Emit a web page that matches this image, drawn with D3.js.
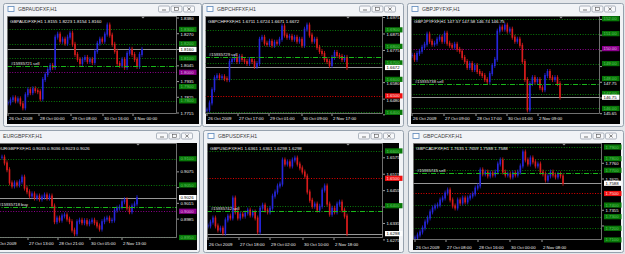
<!DOCTYPE html>
<html>
<head>
<meta charset="utf-8">
<script src="https://cdn.jsdelivr.net/npm/d3@7/dist/d3.min.js"></script>
<style>
  body { margin: 0; background: #e3e6ea; }
  svg { display: block; }
  text { font-family: "Liberation Sans", Arial, sans-serif; }
</style>
</head>
<body>
<div id="chart"></div>
<script>
// ---- values ----

// GBPAUD
var gbpaudClose = [1.7786, 1.7807, 1.7821, 1.7800, 1.7814, 1.7779, 1.7751, 1.7843, 1.7878, 1.7857,
    1.7885, 1.7871, 1.7864, 1.7814, 1.7949, 1.7984, 1.8019, 1.8048, 1.8034, 1.8246,
    1.8267, 1.8217, 1.8232, 1.8203, 1.8246, 1.8274, 1.8196, 1.8125, 1.8090, 1.8062,
    1.8090, 1.8104, 1.8076, 1.8090, 1.8069, 1.8147, 1.8203, 1.8232, 1.8217, 1.8267,
    1.8331, 1.8260, 1.8196, 1.8147, 1.8062, 1.8048, 1.8090, 1.8034, 1.8133, 1.8161,
    1.8125, 1.8090, 1.8041, 1.8125, 1.8160];
var gbpaudTicks = [1.8380, 1.8270, 1.8160, 1.8045, 1.7935, 1.7825, 1.7715];
var gbpaudLevels = [1.8300, 1.8200, 1.8100, 1.7900, 1.7800];
var gbpaudAlert = 1.8000;
var gbpaudBid = 1.8160;
var gbpaudOrder = 1.8043;
var gbpaudDates = ["26 Oct 2009", "28 Oct 00:00", "29 Oct 08:00", "30 Oct 16:00", "3 Nov 00:00"];
var gbpaudDateHours = [0, 31, 63, 95, 125];

// GBPCHF
var gbpchfClose = [1.6414, 1.6457, 1.6537, 1.6610, 1.6622, 1.6610, 1.6616, 1.6604, 1.6598, 1.6708,
    1.6720, 1.6733, 1.6708, 1.6739, 1.6720, 1.6708, 1.6696, 1.6720, 1.6708, 1.6678,
    1.6696, 1.6843, 1.6855, 1.6819, 1.6812, 1.6831, 1.6806, 1.6825, 1.6819, 1.6843,
    1.6923, 1.6868, 1.6855, 1.6861, 1.6843, 1.6855, 1.6831, 1.6843, 1.6806, 1.6904,
    1.6929, 1.6868, 1.6831, 1.6843, 1.6794, 1.6769, 1.6757, 1.6720, 1.6708, 1.6684,
    1.6733, 1.6763, 1.6745, 1.6739, 1.6720, 1.6733, 1.6672];
var gbpchfTicks = [1.6975, 1.6875, 1.6775, 1.6580, 1.6480, 1.6385];
var gbpchfLevels = [1.6900, 1.6800, 1.6700, 1.6600, 1.6400];
var gbpchfAlert = 1.6500;
var gbpchfBid = 1.6672;
var gbpchfOrder = 1.6734;
var gbpchfDates = ["26 Oct 2009", "27 Oct 17:00", "29 Oct 01:00", "30 Oct 09:00", "2 Nov 17:00"];
var gbpchfDateHours = [0, 31, 62, 95, 125];

// GBPJPY
var gbpjpyClose = [149.55, 149.28, 149.68, 149.82, 150.09, 150.29, 150.97, 150.49, 150.29, 150.36,
    150.63, 150.76, 150.49, 151.03, 150.36, 150.22, 150.09, 150.29, 149.95, 149.82,
    149.41, 149.14, 148.74, 149.01, 148.60, 148.87, 148.47, 148.33, 148.20, 147.93,
    147.79, 148.33, 148.87, 149.28, 151.17, 151.44, 151.30, 151.57, 151.17, 151.30,
    150.76, 150.49, 150.63, 150.22, 149.14, 147.93, 145.90, 147.66, 148.06, 147.79,
    147.93, 147.39, 147.25, 148.20, 148.47, 148.06, 147.93, 148.06, 147.66, 146.75];
var gbpjpyTicks = [151.95, 150.90, 149.85, 148.80, 147.75, 146.70, 145.65];
var gbpjpyLevels = [152.00, 151.00, 149.00, 148.00, 147.00, 146.00];
var gbpjpyAlert = 150.00;
var gbpjpyBid = 146.75;
var gbpjpyOrder = 147.66;
var gbpjpyDates = ["26 Oct 2009", "27 Oct 09:00", "28 Oct 17:00", "30 Oct 01:00", "2 Nov 09:00"];
var gbpjpyDateHours = [0, 32, 64, 95, 126];

// EURGBP
var eurgbpClose = [0.9103, 0.9092, 0.9079, 0.9054, 0.9048, 0.9054, 0.9050, 0.9056, 0.9065, 0.9044,
    0.9037, 0.9029, 0.9033, 0.9025, 0.9029, 0.9023, 0.9027, 0.9031, 0.9025, 0.9029,
    0.9010, 0.8980, 0.8987, 0.8983, 0.8991, 0.8993, 0.8985, 0.8980, 0.8964, 0.8957,
    0.8980, 0.8983, 0.8978, 0.8982, 0.8976, 0.8980, 0.8983, 0.8978, 0.8972, 0.8966,
    0.8980, 0.8985, 0.8987, 0.8982, 0.8983, 0.9002, 0.9006, 0.9008, 0.9018, 0.9022,
    0.9006, 0.8999, 0.9010, 0.9014, 0.9026];
var eurgbpTicks = [0.9075, 0.9045, 0.9015, 0.8985];
var eurgbpLevels = [0.9100, 0.9050, 0.8950];
var eurgbpAlert = 0.9000;
var eurgbpBid = 0.9026;
var eurgbpOrder = 0.9009;
var eurgbpDates = ["26 Oct 2009", "27 Oct 13:00", "28 Oct 21:00", "30 Oct 05:00", "2 Nov 13:00"];
var eurgbpDateHours = [-10, 26, 56, 88, 120];

// GBPUSD
var gbpusdClose = [1.6326, 1.6340, 1.6355, 1.6326, 1.6311, 1.6318, 1.6300, 1.6348, 1.6362, 1.6355,
    1.6428, 1.6377, 1.6355, 1.6369, 1.6362, 1.6373, 1.6384, 1.6366, 1.6377, 1.6355,
    1.6304, 1.6391, 1.6402, 1.6384, 1.6377, 1.6391, 1.6435, 1.6450, 1.6472, 1.6479,
    1.6567, 1.6552, 1.6560, 1.6545, 1.6567, 1.6574, 1.6552, 1.6538, 1.6523, 1.6508,
    1.6450, 1.6420, 1.6398, 1.6406, 1.6384, 1.6398, 1.6457, 1.6472, 1.6406, 1.6369,
    1.6391, 1.6377, 1.6406, 1.6413, 1.6384, 1.6362, 1.6298];
var gbpusdTicks = [1.6575, 1.6515, 1.6455, 1.6395, 1.6335, 1.6275];
var gbpusdLevels = [1.6600, 1.6400];
var gbpusdAlert = 1.6500;
var gbpusdBid = 1.6298;
var gbpusdOrder = 1.6380;
var gbpusdDates = ["26 Oct 2009", "27 Oct 18:00", "29 Oct 02:00", "30 Oct 10:00", "2 Nov 18:00"];
var gbpusdDateHours = [0, 31, 62, 95, 126];

// GBPCAD
var gbpcadClose = [1.7116, 1.7142, 1.7168, 1.7203, 1.7254, 1.7289, 1.7341, 1.7375, 1.7392, 1.7401,
    1.7444, 1.7461, 1.7504, 1.7530, 1.7444, 1.7392, 1.7375, 1.7444, 1.7418, 1.7461,
    1.7427, 1.7461, 1.7478, 1.7496, 1.7547, 1.7565, 1.7703, 1.7668, 1.7685, 1.7651,
    1.7677, 1.7659, 1.7685, 1.7754, 1.7789, 1.7685, 1.7659, 1.7668, 1.7642, 1.7677,
    1.7659, 1.7685, 1.7737, 1.7858, 1.7789, 1.7754, 1.7806, 1.7772, 1.7737, 1.7754,
    1.7685, 1.7668, 1.7616, 1.7651, 1.7685, 1.7659, 1.7642, 1.7668, 1.7651, 1.7588];
var gbpcadTicks = [1.7760, 1.7625, 1.7355, 1.7220];
var gbpcadLevels = [1.7900, 1.7800, 1.7700, 1.7400, 1.7300, 1.7200, 1.7100];
var gbpcadAlert = 1.7500;
var gbpcadBid = 1.7588;
var gbpcadOrder = 1.7674;
var gbpcadDates = ["26 Oct 2009", "27 Oct 08:00", "28 Oct 16:00", "30 Oct 00:00", "2 Nov 08:00"];
var gbpcadDateHours = [0, 31, 63, 95, 127];

// ---- chart windows ----
var panels = [
    {title: "GBPAUDFXF,H1", quote: "GBPAUDFXF,H1  1.8155 1.8223 1.8154 1.8160",
     closes: gbpaudClose, ticks: gbpaudTicks, levels: gbpaudLevels, alert: gbpaudAlert, alertColor: "#a000a0",
     bid: gbpaudBid, order: gbpaudOrder, orderText: "#15935721 sell", dates: gbpaudDates, dateHours: gbpaudDateHours,
     win: [3, 3, 199, 124], plot: [7, 16, 170, 98], areaRight: 199, firstX: 8, span: 134,
     domain: [1.7708, 1.8394], digits: 4, dateY: 120},
    {title: "GBPCHFFXF,H1", quote: "GBPCHFFXF,H1  1.6711 1.6724 1.6671 1.6672",
     closes: gbpchfClose, ticks: gbpchfTicks, levels: gbpchfLevels, alert: gbpchfAlert, alertColor: "#ff0000",
     bid: gbpchfBid, order: gbpchfOrder, orderText: "#15935729 sell", dates: gbpchfDates, dateHours: gbpchfDateHours,
     win: [202, 3, 202, 124], plot: [205, 16, 178, 98], areaRight: 400, firstX: 207, span: 140,
     domain: [1.6390, 1.6984], digits: 4, dateY: 120},
    {title: "GBPJPYFXF,H1", quote: "GBPJPYFXF,H1  147.57 147.58 146.74 146.75",
     closes: gbpjpyClose, ticks: gbpjpyTicks, levels: gbpjpyLevels, alert: gbpjpyAlert, alertColor: "#a000a0",
     bid: gbpjpyBid, order: gbpjpyOrder, orderText: "#15935738 sell", dates: gbpjpyDates, dateHours: gbpjpyDateHours,
     win: [407, 3, 217, 124], plot: [411, 16, 189, 98], areaRight: 620, firstX: 412, span: 148,
     domain: [145.63, 152.18], digits: 2, dateY: 120},
    {title: "EURGBPFXF,H1", quote: "EURGBPFXF,H1  0.9035 0.9036 0.9023 0.9026",
     closes: eurgbpClose, ticks: eurgbpTicks, levels: eurgbpLevels, alert: eurgbpAlert, alertColor: "#a000a0",
     bid: eurgbpBid, order: eurgbpOrder, orderText: "#15935718 buy", dates: eurgbpDates, dateHours: eurgbpDateHours,
     win: [-12, 130, 212, 123], plot: [-5, 143, 182, 95], areaRight: 197, firstX: 2, span: 135,
     domain: [0.8949, 0.9130], digits: 4, dateY: 245},
    {title: "GBPUSDFXF,H1", quote: "GBPUSDFXF,H1  1.6361 1.6361 1.6298 1.6298",
     closes: gbpusdClose, ticks: gbpusdTicks, levels: gbpusdLevels, alert: gbpusdAlert, alertColor: "#ff0000",
     bid: gbpusdBid, order: gbpusdOrder, orderText: "#15935742 sell", dates: gbpusdDates, dateHours: gbpusdDateHours,
     win: [203, 130, 201, 123], plot: [207, 143, 176, 95], areaRight: 399, firstX: 208, span: 139,
     domain: [1.6282, 1.6629], digits: 4, dateY: 246},
    {title: "GBPCADFXF,H1", quote: "GBPCADFXF,H1  1.7635 1.7659 1.7588 1.7588",
     closes: gbpcadClose, ticks: gbpcadTicks, levels: gbpcadLevels, alert: gbpcadAlert, alertColor: "#ff0000",
     bid: gbpcadBid, order: gbpcadOrder, orderText: "#15935745 sell", dates: gbpcadDates, dateHours: gbpcadDateHours,
     win: [408, 130, 216, 123], plot: [413, 143, 189, 97], areaRight: 621, firstX: 415, span: 148,
     domain: [1.7099, 1.7935], digits: 4, dateY: 249}
];

var upColor = "#2626dc";
var downColor = "#d91c1c";

var svg = d3.select("#chart")
            .append("svg")
            .attr("width", 625)
            .attr("height", 254);

function drawWindow(g, p) {
    var wx = p.win[0], wy = p.win[1], ww = p.win[2], wh = p.win[3];
    g.append("rect")
     .attr("x", wx + 0.5).attr("y", wy + 0.5)
     .attr("width", ww - 1).attr("height", wh - 1)
     .attr("rx", 2)
     .attr("fill", "#f1f3f6")
     .attr("stroke", "#97a2ae");

    // little chart icon
    g.append("rect")
     .attr("x", wx + 5).attr("y", wy + 3.5)
     .attr("width", 6).attr("height", 5)
     .attr("fill", "#fdfdfd").attr("stroke", "#5b87bb").attr("stroke-width", 0.8);

    g.append("text")
     .attr("x", wx + 15).attr("y", wy + 8.3)
     .attr("font-size", 5.2)
     .attr("fill", "#3c3c3c")
     .text(p.title);

    // min / max / close buttons
    var right = p.areaRight - 4;
    [2, 1, 0].forEach(function(k) {
        var bx = right - (k + 1) * 12.5 + 1;
        g.append("rect")
         .attr("x", bx).attr("y", wy + 3)
         .attr("width", 11).attr("height", 6)
         .attr("rx", 1.2)
         .attr("fill", "#f7f8fa").attr("stroke", "#8d97a3").attr("stroke-width", 0.7);
        var cx = bx + 5.5, cy = wy + 6;
        if (k === 2) {
            g.append("line").attr("x1", cx - 2).attr("x2", cx + 2).attr("y1", cy + 1).attr("y2", cy + 1)
             .attr("stroke", "#555").attr("stroke-width", 0.8);
        } else if (k === 1) {
            g.append("rect").attr("x", cx - 2).attr("y", cy - 1.5).attr("width", 4).attr("height", 3)
             .attr("fill", "none").attr("stroke", "#555").attr("stroke-width", 0.6);
        } else {
            g.append("path").attr("d", "M" + (cx - 1.7) + "," + (cy - 1.5) + "L" + (cx + 1.7) + "," + (cy + 1.5) +
                                       "M" + (cx + 1.7) + "," + (cy - 1.5) + "L" + (cx - 1.7) + "," + (cy + 1.5))
             .attr("stroke", "#555").attr("stroke-width", 0.7);
        }
    });
}

function drawPanel(p, idx) {
    var g = svg.append("g");
    drawWindow(g, p);

    var px = p.plot[0], py = p.plot[1], pw = p.plot[2], ph = p.plot[3];
    var pr = px + pw, pb = py + ph;
    var areaBottom = p.win[1] + p.win[3] - 3;
    var areaLeft = Math.max(px, p.win[0] + 4);

    // black chart area
    g.append("rect")
     .attr("x", areaLeft).attr("y", py)
     .attr("width", p.areaRight - areaLeft).attr("height", areaBottom - py)
     .attr("fill", "#000");

    var yScale = d3.scaleLinear().domain(p.domain).range([pb, py]);
    var xScale = d3.scaleLinear().domain([0, p.span]).range([p.firstX, p.firstX + p.span]);
    var step = p.span / (p.closes.length - 1);

    var clipId = "clip" + idx;
    g.append("clipPath").attr("id", clipId)
     .append("rect").attr("x", px).attr("y", py).attr("width", pw).attr("height", ph);
    var plot = g.append("g").attr("clip-path", "url(#" + clipId + ")");

    // horizontal level lines (dotted)
    plot.selectAll("line.level")
        .data(p.levels)
        .enter()
        .append("line")
        .attr("x1", px).attr("x2", pr)
        .attr("y1", function(d) { return Math.round(yScale(d)) + 0.5; })
        .attr("y2", function(d) { return Math.round(yScale(d)) + 0.5; })
        .attr("stroke", "#0b8a0b")
        .attr("stroke-width", 0.9)
        .attr("stroke-dasharray", "1,1.6");

    plot.append("line")
        .attr("x1", px).attr("x2", pr)
        .attr("y1", Math.round(yScale(p.alert)) + 0.5).attr("y2", Math.round(yScale(p.alert)) + 0.5)
        .attr("stroke", p.alertColor)
        .attr("stroke-width", 0.9)
        .attr("stroke-dasharray", "1,1.6");

    // bid line
    plot.append("line")
        .attr("x1", px).attr("x2", pr)
        .attr("y1", Math.round(yScale(p.bid)) + 0.5).attr("y2", Math.round(yScale(p.bid)) + 0.5)
        .attr("stroke", "#a9a9a9")
        .attr("stroke-width", 0.9);

    // bars: body from previous close to close plus a short wick
    var bars = p.closes.map(function(c, i) {
        return {i: i, o: i ? p.closes[i - 1] : c, c: c};
    });

    plot.selectAll("line.wick")
        .data(bars)
        .enter()
        .append("line")
        .attr("x1", function(d) { return xScale(d.i * step); })
        .attr("x2", function(d) { return xScale(d.i * step); })
        .attr("y1", function(d) { return yScale(Math.max(d.o, d.c)) - 2.5; })
        .attr("y2", function(d) { return yScale(Math.min(d.o, d.c)) + 2.5; })
        .attr("stroke", function(d) { return d.c >= d.o ? upColor : downColor; })
        .attr("stroke-width", 0.8);

    plot.selectAll("rect.bar")
        .data(bars)
        .enter()
        .append("rect")
        .attr("x", function(d) { return xScale(d.i * step) - 0.8; })
        .attr("y", function(d) { return yScale(Math.max(d.o, d.c)) - 0.5; })
        .attr("width", 1.6)
        .attr("height", function(d) { return Math.abs(yScale(d.o) - yScale(d.c)) + 1; })
        .attr("fill", function(d) { return d.c >= d.o ? upColor : downColor; });

    // order line (dash-dot) and its label
    var oy = Math.round(yScale(p.order)) + 0.5;
    plot.append("line")
        .attr("x1", px).attr("x2", pr)
        .attr("y1", oy).attr("y2", oy)
        .attr("stroke", "#19b819")
        .attr("stroke-width", 1)
        .attr("stroke-dasharray", "5,1.5,1,1.5");

    g.append("text")
     .attr("x", px + 4).attr("y", oy - 2)
     .attr("font-size", 4.2)
     .attr("fill", "#e8e8e8")
     .text(p.orderText);

    // header quote
    g.append("text")
     .attr("x", px + 3).attr("y", py + 6.5)
     .attr("font-size", 4.4)
     .attr("fill", "#f0f0f0")
     .text(p.quote);

    // shift marker
    var sx = xScale(p.span) + 1;
    g.append("path")
     .attr("d", "M" + (sx - 2) + "," + (py + 0.5) + "L" + (sx + 2) + "," + (py + 0.5) + "L" + sx + "," + (py + 2.5) + "Z")
     .attr("fill", "#9a9a9a");

    // plot frame
    g.append("rect")
     .attr("x", px + 0.5).attr("y", py + 0.5)
     .attr("width", pw - 1).attr("height", ph - 1)
     .attr("fill", "none")
     .attr("stroke", "#8c8c8c")
     .attr("stroke-width", 0.8);

    // price axis: a label covered by a level box is left out, one just under a box is pushed below it
    var fmt = d3.format("." + p.digits + "f");
    var boxVals = p.levels.concat([p.alert, p.bid]);
    var ticks = p.ticks.filter(function(t) {
        return boxVals.every(function(v) { return Math.abs(yScale(v) - yScale(t)) > 3; });
    });
    function tickLabelY(t) {
        var ty = yScale(t) + 1.6;
        boxVals.forEach(function(v) {
            var by = yScale(v);
            if (ty - 3.4 < by + 2.6 && ty > by) { ty = by + 2.6 + 3.5; }
        });
        return ty;
    }

    g.selectAll("line.ptick")
     .data(p.ticks)
     .enter()
     .append("line")
     .attr("x1", pr).attr("x2", pr + 2)
     .attr("y1", function(d) { return yScale(d); })
     .attr("y2", function(d) { return yScale(d); })
     .attr("stroke", "#ddd").attr("stroke-width", 0.7);

    g.selectAll("text.ptick")
     .data(ticks)
     .enter()
     .append("text")
     .attr("x", pr + 3.5)
     .attr("y", tickLabelY)
     .attr("font-size", 4.3)
     .attr("fill", "#f2f2f2")
     .text(function(d) { return fmt(d); });

    // level price boxes
    var boxes = p.levels.map(function(v) { return {v: v, fill: "#087808", text: "#63c063"}; });
    boxes.push({v: p.alert, fill: p.alertColor === "#ff0000" ? "#f01010" : "#8c008c",
                text: p.alertColor === "#ff0000" ? "#ffe0e0" : "#e3b0e3"});
    boxes.push({v: p.bid, fill: "#ffffff", text: "#000"});

    var bg = g.selectAll("g.box")
              .data(boxes)
              .enter()
              .append("g");
    bg.append("rect")
      .attr("x", pr + 2)
      .attr("y", function(d) { return yScale(d.v) - 2.6; })
      .attr("width", 17.5)
      .attr("height", 5.2)
      .attr("fill", function(d) { return d.fill; });
    bg.append("text")
      .attr("x", pr + 3.5)
      .attr("y", function(d) { return yScale(d.v) + 1.6; })
      .attr("font-size", 4.3)
      .attr("fill", function(d) { return d.text; })
      .text(function(d) { return fmt(d.v); });

    // time axis
    g.selectAll("line.dtick")
     .data(p.dateHours)
     .enter()
     .append("line")
     .attr("x1", function(d) { return xScale(d); })
     .attr("x2", function(d) { return xScale(d); })
     .attr("y1", pb).attr("y2", pb + 2)
     .attr("stroke", "#ddd").attr("stroke-width", 0.7);

    g.selectAll("text.dtick")
     .data(p.dates)
     .enter()
     .append("text")
     .attr("x", function(d, i) { return xScale(p.dateHours[i]) + 1; })
     .attr("y", p.dateY)
     .attr("font-size", 4.3)
     .attr("fill", "#f2f2f2")
     .text(function(d) { return d; });
}

panels.forEach(drawPanel);
</script>
</body>
</html>
